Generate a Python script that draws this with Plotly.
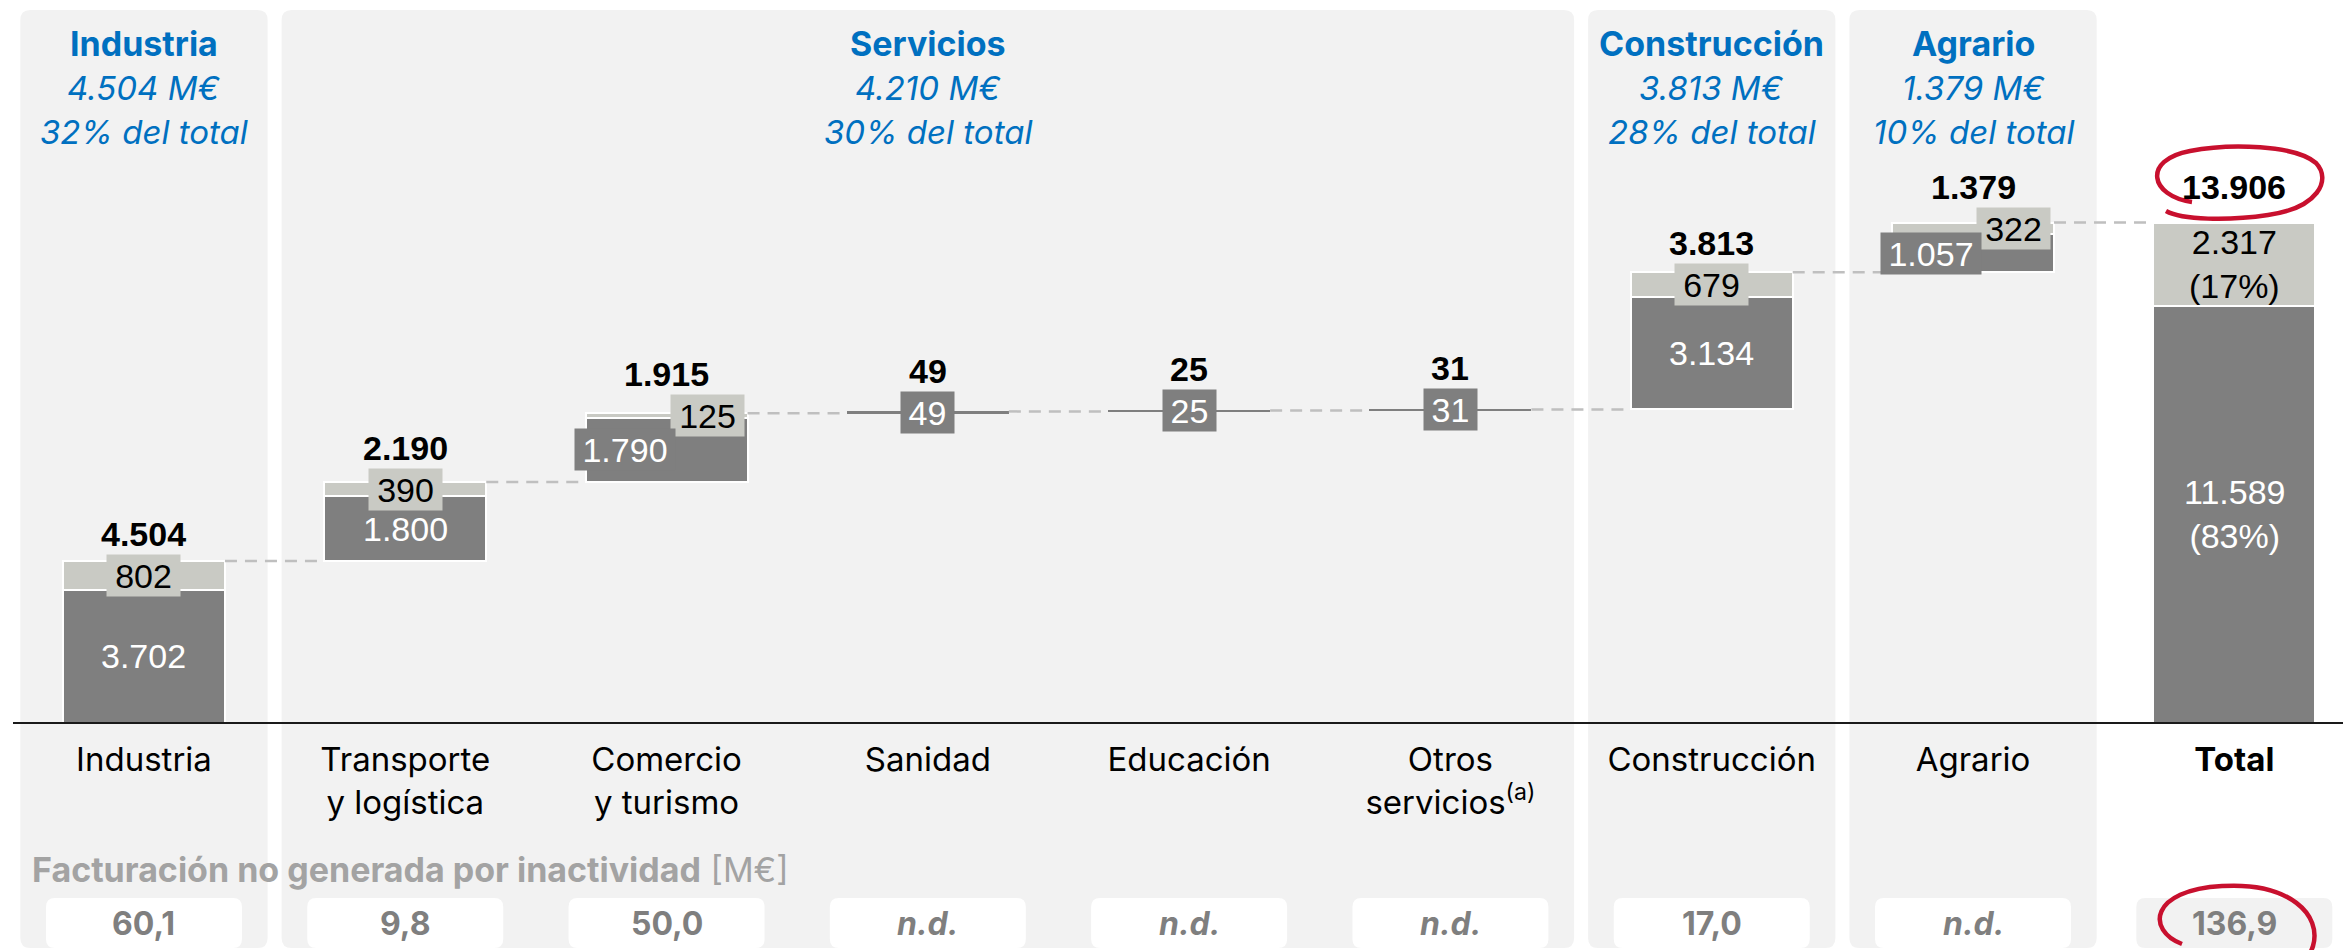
import plotly.graph_objects as go

# ---------------- data ----------------
categories = ["Industria", "Transporte<br>y logística", "Comercio<br>y turismo", "Sanidad",
              "Educación", "Otros<br>servicios<sup>(a)</sup>", "Construcción", "Agrario",
              "<b>Total</b>"]
sector_dark = [3702, 1800, 1790, 49, 25, 31, 3134, 1057]
sector_light = [802, 390, 125, 0, 0, 0, 679, 322]
total_dark = 11589
total_light = 2317
lost_revenue = [60.1, 9.8, 50.0, None, None, None, 17.0, None, 136.9]

groups = ["Industria", "Servicios", "Construcción", "Agrario"]
group_members = [[0], [1, 2, 3, 4, 5], [6], [7]]
group_share = [32, 30, 28, 10]

# ---------------- style ----------------
W, H = 2343, 950
X_RANGE = [-0.551, 8.416]
BASE_PX = 723
Y_MAX = 20090
K = BASE_PX / Y_MAX              # pixels per M€
BAR_W = 0.62
DARK = "#7f7f7f"
LIGHT = "#c9cac4"
PANEL = "#f2f2f2"
BLUE = "#0070c0"
RED = "#c8102e"
NUM_FONT = "Liberation Sans, Arial, sans-serif"
TXT_FONT = "Inter, Open Sans, sans-serif"


def fmt(v):
    return f"{v:,}".replace(",", ".")


def px_x(xd):
    return (xd - X_RANGE[0]) / (X_RANGE[1] - X_RANGE[0]) * W


def PX(p):
    return p / W


def PY(p):
    return 1 - p / H


def rrect(x0, y0, x1, y1, r):
    return (f"M {PX(x0 + r)},{PY(y0)} L {PX(x1 - r)},{PY(y0)} Q {PX(x1)},{PY(y0)} {PX(x1)},{PY(y0 + r)} "
            f"L {PX(x1)},{PY(y1 - r)} Q {PX(x1)},{PY(y1)} {PX(x1 - r)},{PY(y1)} "
            f"L {PX(x0 + r)},{PY(y1)} Q {PX(x0)},{PY(y1)} {PX(x0)},{PY(y1 - r)} "
            f"L {PX(x0)},{PY(y0 + r)} Q {PX(x0)},{PY(y0)} {PX(x0 + r)},{PY(y0)} Z")


def path_px(cmds):
    out = []
    for c in cmds:
        if isinstance(c, str):
            out.append(c)
        else:
            out.append(f"{PX(c[0])},{PY(c[1])}")
    return " ".join(out)


# ---------------- waterfall geometry ----------------
n_sec = len(sector_dark)
sector_tot = [d + l for d, l in zip(sector_dark, sector_light)]
starts = []
acc = 0
for t in sector_tot:
    starts.append(acc)
    acc += t
grand_total = total_dark + total_light

xs = list(range(n_sec + 1))
dark_vals = sector_dark + [total_dark]
light_vals = sector_light + [total_light]
dark_base = starts + [0]
light_base = [b + d for b, d in zip(dark_base, dark_vals)]

fig = go.Figure()
fig.add_trace(go.Bar(
    x=xs, y=dark_vals, base=dark_base, width=BAR_W,
    marker=dict(color=DARK, line=dict(color="white", width=[2 if v > 100 else 0 for v in dark_vals])),
    hoverinfo="skip"))
fig.add_trace(go.Bar(
    x=xs, y=[v if v > 0 else None for v in light_vals], base=light_base, width=BAR_W,
    marker=dict(color=LIGHT, line=dict(color="white", width=[2 if v > 0 else 0 for v in light_vals])),
    hoverinfo="skip"))

# dashed connectors between consecutive bars
cx, cy = [], []
ends = [s + t for s, t in zip(starts, sector_tot)]
for i in range(n_sec):
    cx += [i + BAR_W / 2, i + 1 - BAR_W / 2, None]
    cy += [ends[i], ends[i], None]
fig.add_trace(go.Scatter(x=cx, y=cy, mode="lines", hoverinfo="skip",
                         line=dict(color="#bfbfbf", width=2.5, dash="12px,8px")))

annotations = []


def label(x, y, text, color, bg=None, w=None, size=34, bold=False, yanchor="middle", yshift=0):
    a = dict(x=x, y=y, xref="x", yref="y", text=f"<b>{text}</b>" if bold else text,
             showarrow=False, font=dict(family=NUM_FONT, size=size, color=color),
             xanchor="center", yanchor=yanchor, yshift=yshift, borderpad=0)
    if bg:
        a.update(bgcolor=bg, width=w, height=41)
    annotations.append(a)


BOX_HALF = 20.5
for i in range(n_sec):
    d, l, s = sector_dark[i], sector_light[i], starts[i]
    top_px = (s + d + l) * K
    if l > 0:
        lc = s + d + l / 2
        if l < 350:
            # thin top segment: stagger the two value tags side by side
            label(i + 0.155, lc, fmt(l), "black", bg=LIGHT, w=73)
            label(i - 0.16, s + d / 2, fmt(d), "white", bg=DARK, w=100)
        else:
            label(i, lc, fmt(l), "black", bg=LIGHT, w=73)
            label(i, s + d / 2, fmt(d), "white")
        box_top = lc * K + BOX_HALF
    else:
        dc = s + d / 2
        label(i, dc, fmt(d), "white", bg=DARK, w=53)
        box_top = dc * K + BOX_HALF
    shift = max(0.0, box_top - top_px) + 1
    label(i, s + d + l, fmt(d + l), "black", bold=True, yanchor="bottom", yshift=shift)

ti = n_sec
label(ti, total_dark + total_light / 2,
      f"{fmt(total_light)}<br>({round(100 * total_light / grand_total)}%)", "black")
label(ti, total_dark / 2,
      f"{fmt(total_dark)}<br>({round(100 * total_dark / grand_total)}%)", "white")
label(ti, grand_total, fmt(grand_total), "black", bold=True, yanchor="bottom", yshift=16)

# ---------------- panels & group headers ----------------
shapes = []
PAD = 7
for g, members, share in zip(groups, group_members, group_share):
    left = px_x(members[0] - 0.5) + PAD
    right = px_x(members[-1] + 0.5) - PAD
    shapes.append(dict(type="path", xref="paper", yref="paper", layer="below",
                       path=rrect(left, 10, right, 948, 10), fillcolor=PANEL, line=dict(width=0)))
    gtot = sum(sector_tot[m] for m in members)
    cxp = PX((left + right) / 2)
    for text, ypx, size in [(f"<b>{g}</b>", 44, 34),
                            (f"<i>{fmt(gtot)} M€</i>", 88, 33),
                            (f"<i>{share}% del total</i>", 132, 33)]:
        annotations.append(dict(x=cxp, y=PY(ypx), xref="paper", yref="paper", text=text,
                                showarrow=False, xanchor="center", yanchor="middle",
                                font=dict(family=TXT_FONT, size=size, color=BLUE)))

# ---------------- lost revenue row ----------------
annotations.append(dict(x=PX(30), y=PY(869), xref="paper", yref="paper",
                        text="<b>Facturación no generada por inactividad</b> [M€]",
                        showarrow=False, xanchor="left", yanchor="middle",
                        font=dict(family=TXT_FONT, size=34, color="#a3a3a3")))
for i, v in enumerate(lost_revenue):
    cxpx = px_x(i)
    fill = PANEL if i == len(lost_revenue) - 1 else "white"
    shapes.append(dict(type="path", xref="paper", yref="paper", layer="below",
                       path=rrect(cxpx - 98, 898, cxpx + 98, 948, 9), fillcolor=fill, line=dict(width=0)))
    txt = "<b><i>n.d.</i></b>" if v is None else f"<b>{v:.1f}</b>".replace(".", ",")
    annotations.append(dict(x=PX(cxpx), y=PY(923), xref="paper", yref="paper", text=txt,
                            showarrow=False, xanchor="center", yanchor="middle",
                            font=dict(family=TXT_FONT, size=32, color="#7f7f7f")))

# ---------------- hand-drawn highlight rings ----------------
ring1 = path_px(["M", (2192, 202), "C", (2150, 196), (2142, 160), (2190, 151),
                 "C", (2230, 143), (2295, 145), (2316, 163),
                 "C", (2332, 180), (2318, 208), (2268, 215),
                 "C", (2228, 221), (2182, 220), (2166, 211)])
ring2 = path_px(["M", (2182, 944), "C", (2146, 930), (2150, 890), (2222, 886),
                 "C", (2290, 882), (2322, 915), (2313, 946),
                 "C", (2305, 972), (2268, 988), (2236, 992)])
for p in (ring1, ring2):
    shapes.append(dict(type="path", xref="paper", yref="paper", layer="above", path=p,
                       line=dict(color=RED, width=4.5)))

# baseline under the bars
shapes.append(dict(type="line", xref="paper", yref="paper", layer="above",
                   x0=PX(13), x1=1, y0=PY(BASE_PX), y1=PY(BASE_PX),
                   line=dict(color="#1a1a1a", width=2)))

fig.update_layout(
    width=W, height=H, margin=dict(l=0, r=0, t=0, b=0),
    paper_bgcolor="white", plot_bgcolor="rgba(0,0,0,0)",
    barmode="overlay", showlegend=False, bargap=0,
    shapes=shapes, annotations=annotations,
    xaxis=dict(range=X_RANGE, domain=[0, 1], tickmode="array", tickvals=list(range(len(categories))),
               ticktext=categories, tickfont=dict(family=TXT_FONT, size=33, color="black"),
               showline=False, ticks="", showgrid=False,
               zeroline=False, fixedrange=True, ticklabelstandoff=14),
    yaxis=dict(range=[0, Y_MAX], domain=[1 - BASE_PX / H, 1], visible=False, fixedrange=True),
)

fig.write_html("out.html")
